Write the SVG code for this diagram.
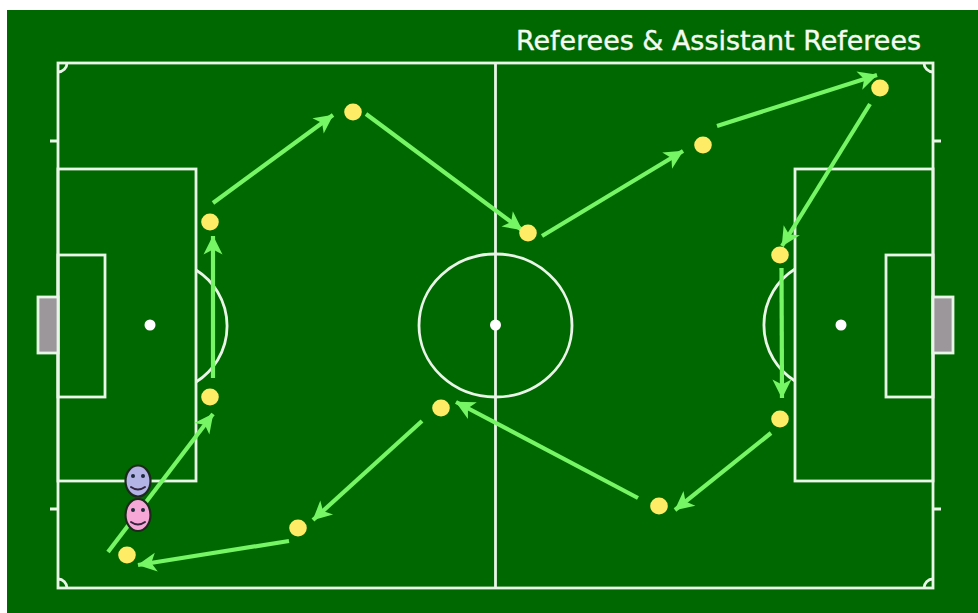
<svg xmlns="http://www.w3.org/2000/svg" width="978" height="613" viewBox="0 0 978 613">
<style>
.l{fill:none;stroke:#e9f5e6;stroke-width:2.8}
.g{fill:#9b979b;stroke:#e9f5e6;stroke-width:2.8}
.s{fill:#fff}
.r{fill:#ffec66}
.a{fill:none;stroke:#76f565;stroke-width:4.200;stroke-linecap:butt;marker-end:url(#h)}
.f{stroke:#1c2a1c;stroke-width:2.2}
.e{fill:#1c2a3c}
.m{fill:none;stroke:#33233c;stroke-width:2;stroke-linecap:round}
</style>
<defs>
<marker id="h" viewBox="0 0 20 20" markerUnits="userSpaceOnUse" markerWidth="20" markerHeight="20" refX="19.500" refY="10" orient="auto">
<path d="M1 0.500L20 10L1 19.500L6 10Z" fill="#76f565"/>
</marker>
</defs>
<rect width="978" height="613" fill="#fff"/>
<rect x="7" y="10" width="971" height="603" fill="#006800"/>
<g id="pitch">
<rect class="l" x="58" y="63" width="875" height="525"/>
<line class="l" x1="495.500" y1="63" x2="495.500" y2="588"/>
<ellipse class="l" cx="495.500" cy="325.500" rx="76.500" ry="71.500"/>
<rect class="l" x="58" y="169" width="138" height="312"/>
<rect class="l" x="58" y="255" width="47" height="142"/>
<rect class="l" x="795" y="169" width="138" height="312"/>
<rect class="l" x="886" y="255" width="47" height="142"/>
<path class="l" d="M196 270A66 66 0 0 1 196 382"/>
<path class="l" d="M795 269A66 66 0 0 0 795 381"/>
<path class="l" d="M58 72A9 9 0 0 0 67 63M924 63A9 9 0 0 0 933 72M58 579A9 9 0 0 1 67 588M933 579A9 9 0 0 0 924 588"/>
<path class="l" d="M50 141H58M50 509H58M933 141H941M933 509H941"/>
<rect class="g" x="38" y="297" width="20" height="56"/>
<rect class="g" x="933" y="297" width="20" height="56"/>
<circle class="s" cx="150" cy="325" r="5.500"/>
<circle class="s" cx="495.500" cy="325" r="5.500"/>
<circle class="s" cx="841" cy="325" r="5.500"/>
</g>
<g id="connectors">
<path class="a" d="M213 203L333 115"/>
<path class="a" d="M366 114L522 230"/>
<path class="a" d="M542 236L683 151"/>
<path class="a" d="M717 126L877 75"/>
<path class="a" d="M870 104L782 246"/>
<path class="a" d="M781.500 268L782 398"/>
<path class="a" d="M771 433L675 510"/>
<path class="a" d="M638 498L456 402"/>
<path class="a" d="M422 421L313 520"/>
<path class="a" d="M289 541L138 565"/>
<path class="a" d="M108 552L213 414"/>
<path class="a" d="M213 378L213 236"/>
</g>
<g id="referee-1"><ellipse class="r" cx="210" cy="222" rx="8.800" ry="8.400"/></g>
<g id="referee-2"><ellipse class="r" cx="353" cy="112" rx="8.800" ry="8.400"/></g>
<g id="referee-3"><ellipse class="r" cx="528" cy="233" rx="8.800" ry="8.400"/></g>
<g id="referee-4"><ellipse class="r" cx="703" cy="145" rx="8.800" ry="8.400"/></g>
<g id="referee-5"><ellipse class="r" cx="880" cy="88" rx="8.800" ry="8.400"/></g>
<g id="referee-6"><ellipse class="r" cx="780" cy="255" rx="8.800" ry="8.400"/></g>
<g id="referee-7"><ellipse class="r" cx="780" cy="419" rx="8.800" ry="8.400"/></g>
<g id="referee-8"><ellipse class="r" cx="659" cy="506" rx="8.800" ry="8.400"/></g>
<g id="referee-9"><ellipse class="r" cx="441" cy="408" rx="8.800" ry="8.400"/></g>
<g id="referee-10"><ellipse class="r" cx="298" cy="528" rx="8.800" ry="8.400"/></g>
<g id="referee-11"><ellipse class="r" cx="127" cy="555" rx="8.800" ry="8.400"/></g>
<g id="referee-12"><ellipse class="r" cx="210" cy="397" rx="8.800" ry="8.400"/></g>
<g id="assistant-blue">
<ellipse class="f" cx="138" cy="481" rx="12.500" ry="15.500" fill="#b3b3e6"/>
<circle class="e" cx="133" cy="476" r="2"/><circle class="e" cx="143" cy="476" r="2"/>
<path class="m" d="M131 487Q138 492 145 487"/>
</g>
<g id="assistant-pink">
<ellipse class="f" cx="138" cy="515" rx="12.500" ry="16" fill="#f7a6d8"/>
<circle class="e" cx="133" cy="510" r="2"/><circle class="e" cx="143" cy="510" r="2"/>
<path class="m" d="M131 522Q138 527 145 522"/>
</g>
<g id="title">
<text x="516" y="50" font-family="'DejaVu Sans',Verdana,sans-serif" font-size="26" fill="#f4fbf0" stroke="#f4fbf0" stroke-width="0.400" textLength="405" lengthAdjust="spacingAndGlyphs">Referees &amp; Assistant Referees</text>
</g>
</svg>
